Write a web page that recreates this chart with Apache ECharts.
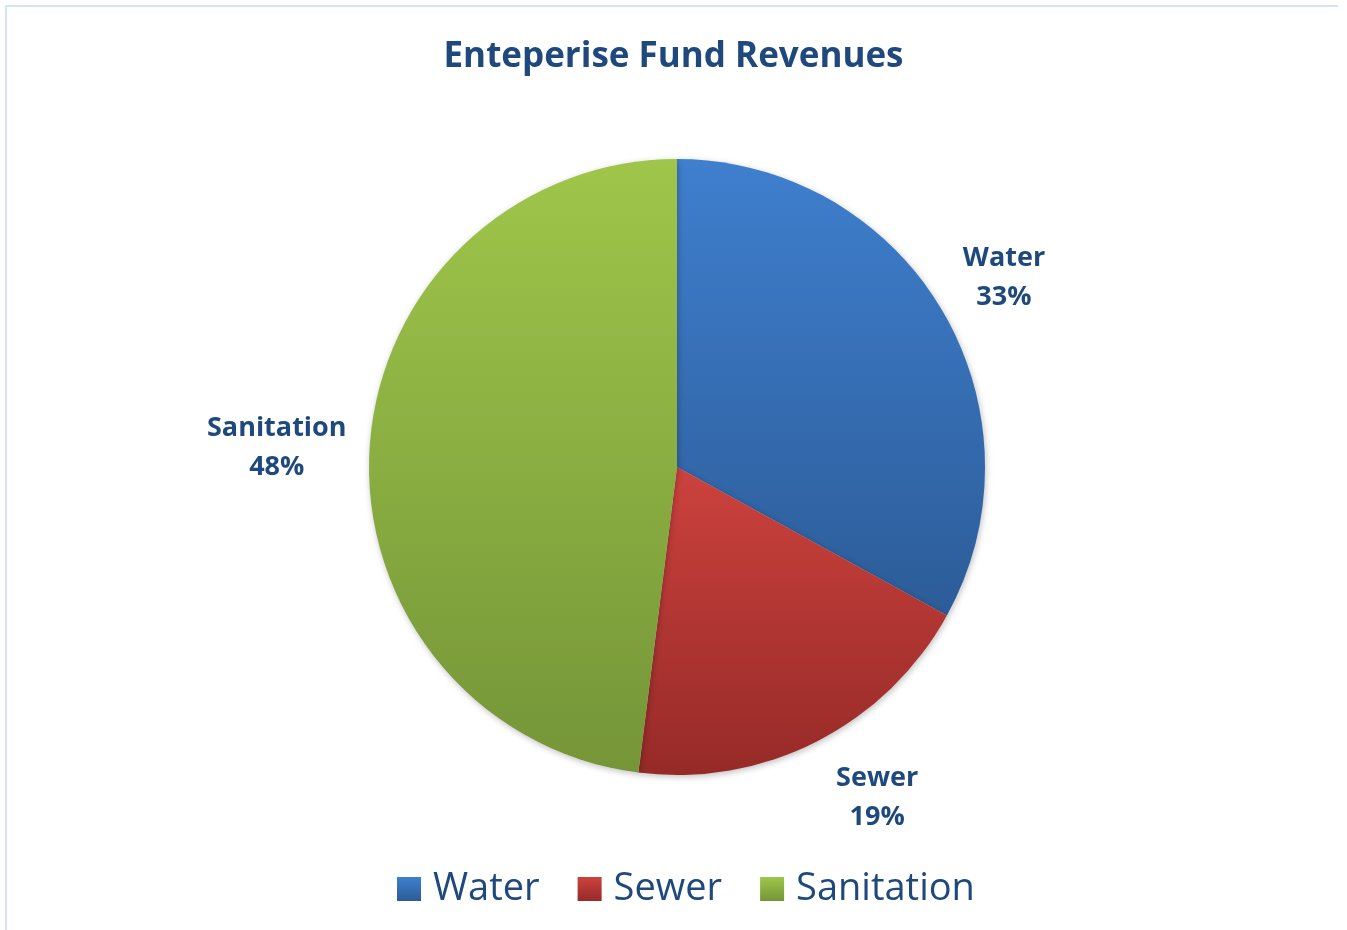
<!DOCTYPE html>
<html>
<head>
<meta charset="utf-8">
<title>Enteperise Fund Revenues</title>
<script src="https://cdn.jsdelivr.net/npm/echarts@6/dist/echarts.min.js"></script>
<style>
  html, body { margin: 0; padding: 0; background: #ffffff; }
  #chart { width: 1347px; height: 930px; }
</style>
</head>
<body>
<div id="chart"></div>
<script>
// Revenue shares (percent) by enterprise fund
const categories = ['Water', 'Sewer', 'Sanitation'];
const shares = [33, 19, 48];

// Slice fills: top and bottom stops of each vertical gradient
const topColors = ['#3f7fce', '#cc423e', '#9fc64a'];
const bottomColors = ['#2c5c98', '#962a27', '#759538'];

// Small per-label nudges away from the plain mid-angle placement
const labelNudge = {
  Water: [-7, 8],
  Sewer: [24, -15],
  Sanitation: [-13, 5]
};

const textBlue = '#1f497d';
const font = '"Open Sans", "Noto Sans", sans-serif';

function gradient(i) {
  return new echarts.graphic.LinearGradient(0, 0, 0, 1, [
    { offset: 0, color: topColors[i] },
    { offset: 1, color: bottomColors[i] }
  ]);
}

const sliceData = categories.map((name, i) => ({
  name: name,
  value: shares[i],
  itemStyle: { color: gradient(i) }
}));

// Invisible outer ring carrying the category/percent labels
const labelData = categories.map((name, i) => ({
  name: name,
  value: shares[i],
  itemStyle: { color: 'rgba(0,0,0,0)' }
}));

const chart = echarts.init(document.getElementById('chart'), null, { renderer: 'canvas' });

chart.setOption({
  backgroundColor: '#ffffff',
  animation: false,
  title: {
    text: 'Enteperise Fund Revenues',
    left: 'center',
    top: 35,
    textStyle: {
      fontFamily: font,
      fontWeight: 'bold',
      fontSize: 35,
      color: textBlue
    }
  },
  legend: {
    data: categories,
    bottom: 22,
    left: 397,
    padding: 0,
    icon: 'rect',
    itemWidth: 24,
    itemHeight: 24,
    itemGap: 38,
    selectedMode: false,
    textStyle: {
      fontFamily: font,
      fontSize: 38,
      color: textBlue,
      padding: [0, 0, 0, 7]
    }
  },
  graphic: [{
    type: 'polyline',
    shape: { points: [[1338, 6], [6, 6], [6, 940]] },
    style: { fill: 'none', stroke: '#d7e2f3', lineWidth: 2 },
    silent: true,
    z: -10
  }],
  series: [
    {
      type: 'pie',
      name: 'Revenue',
      center: [677, 467],
      radius: [0, 308],
      startAngle: 90,
      clockwise: true,
      silent: true,
      label: { show: false },
      labelLine: { show: false },
      itemStyle: {
        borderWidth: 0,
        shadowBlur: 6,
        shadowOffsetX: 1,
        shadowOffsetY: 2,
        shadowColor: 'rgba(0,0,0,0.25)'
      },
      data: sliceData
    },
    {
      type: 'pie',
      name: 'Labels',
      center: [677, 467],
      radius: [345, 425],
      startAngle: 90,
      clockwise: true,
      silent: true,
      legendHoverLink: false,
      label: {
        show: true,
        position: 'inside',
        formatter: '{b}\n{d}%',
        fontFamily: font,
        fontWeight: 'bold',
        fontSize: 27,
        lineHeight: 39,
        color: textBlue
      },
      labelLine: { show: false },
      labelLayout: function (params) {
        const n = labelNudge[categories[params.dataIndex]];
        return { dx: n[0], dy: n[1] };
      },
      itemStyle: { borderWidth: 0 },
      data: labelData
    }
  ]
});
</script>
</body>
</html>
